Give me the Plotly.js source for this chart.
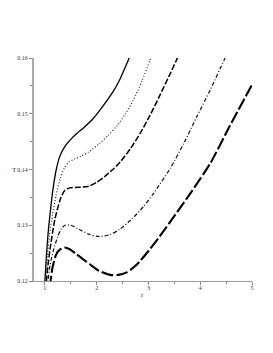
<!DOCTYPE html>
<html>
<head>
<meta charset="utf-8">
<script src="https://cdn.plot.ly/plotly-3.0.1.min.js"></script>
<style>html,body{margin:0;padding:0;background:#fff;}#chart{width:273px;height:353px;}</style>
</head>
<body>
<div id="chart"></div>
<script>
// Curve 1 (solid)
var r1 = [0.99, 1.00, 1.03, 1.06, 1.10, 1.16, 1.22, 1.29, 1.39, 1.50, 1.61, 1.75, 1.93, 2.10, 2.32, 2.45, 2.61, 2.66];
var T1 = [0.1183, 0.1200, 0.1245, 0.1283, 0.1320, 0.1367, 0.1400, 0.1424, 0.1442, 0.1454, 0.1464, 0.1475, 0.1491, 0.1511, 0.1540, 0.1562, 0.1596, 0.1607];
// Curve 2 (dotted)
var r2 = [1.01, 1.02, 1.05, 1.09, 1.15, 1.22, 1.30, 1.38, 1.46, 1.58, 1.70, 1.85, 2.06, 2.22, 2.39, 2.55, 2.71, 2.87, 3.03, 3.08];
var T2 = [0.1183, 0.1200, 0.1245, 0.1283, 0.1320, 0.1355, 0.1385, 0.1403, 0.1413, 0.1419, 0.1424, 0.1432, 0.1447, 0.1461, 0.1478, 0.1499, 0.1525, 0.1558, 0.1596, 0.1608];
// Curve 3 (dashed)
var r3 = [1.02, 1.03, 1.06, 1.10, 1.19, 1.30, 1.38, 1.48, 1.65, 1.85, 2.00, 2.15, 2.30, 2.45, 2.65, 2.84, 3.03, 3.22, 3.40, 3.54, 3.59];
var T3 = [0.1185, 0.1200, 0.1228, 0.1257, 0.1309, 0.1347, 0.1362, 0.1367, 0.1368, 0.1370, 0.1377, 0.1387, 0.1399, 0.1413, 0.1437, 0.1465, 0.1497, 0.1533, 0.1568, 0.1596, 0.1607];
// Curve 4 (dash-dot)
var r4 = [1.05, 1.06, 1.10, 1.16, 1.25, 1.32, 1.39, 1.50, 1.65, 1.85, 2.03, 2.25, 2.45, 2.70, 2.90, 3.09, 3.42, 3.70, 3.93, 4.20, 4.46, 4.51];
var T4 = [0.1188, 0.1200, 0.1228, 0.1253, 0.1280, 0.1294, 0.1300, 0.1300, 0.1293, 0.1284, 0.1280, 0.1283, 0.1293, 0.1313, 0.1333, 0.1356, 0.1402, 0.1450, 0.1494, 0.1544, 0.1596, 0.1606];
// Curve 5 (long dash)
var r5 = [1.10, 1.11, 1.15, 1.22, 1.30, 1.38, 1.48, 1.61, 1.87, 2.05, 2.26, 2.42, 2.57, 2.72, 2.84, 3.02, 3.21, 3.45, 3.83, 4.20, 4.57, 5.00];
var T5 = [0.1188, 0.1200, 0.1225, 0.1248, 0.1257, 0.1260, 0.1257, 0.1248, 0.1230, 0.1218, 0.1211, 0.1211, 0.1215, 0.1225, 0.1236, 0.1256, 0.1279, 0.1310, 0.1360, 0.1412, 0.1478, 0.1552];

var xTicks = [1, 2, 3, 4, 5];
var yTicks = [0.12, 0.13, 0.14, 0.15, 0.16];
var yTickText = ['0.12', '0.13', '0.14', '0.15', '0.16'];

function tr(x, y, dash, w, col) {
  return {x: x, y: y, mode: 'lines', type: 'scatter', hoverinfo: 'skip',
    line: {color: col, width: w, dash: dash, shape: 'spline', smoothing: 0.7}};
}
var data = [
  tr(r1, T1, 'solid', 1.3, '#000'),
  tr(r2, T2, '1px,2px', 1.2, '#222'),
  tr(r3, T3, '6px,2px', 1.5, '#000'),
  tr(r4, T4, '4px,2px,1px,2px', 1.2, '#111'),
  tr(r5, T5, '12px,3px', 2.1, '#000')
];
var font = {family: '"Liberation Serif", "DejaVu Serif", serif', size: 6, color: '#333'};
var layout = {
  width: 273, height: 353,
  margin: {l: 34, r: 21, t: 58, b: 72, pad: 0},
  paper_bgcolor: '#fff', plot_bgcolor: '#fff',
  showlegend: false,
  font: font,
  xaxis: {range: [0.79, 5], tickvals: xTicks, ticktext: xTicks.map(String), ticks: 'outside', ticklen: 3,
    tickcolor: '#888', showline: true, linecolor: '#999', linewidth: 1.2, showgrid: false, zeroline: false,
    ticklabelstandoff: -2,
    tickfont: font, minor: {dtick: 0.5, tick0: 1, ticks: 'outside', ticklen: 2, tickcolor: '#888', showgrid: false}},
  yaxis: {range: [0.12, 0.16], tickvals: yTicks, ticktext: yTickText, ticks: 'outside', ticklen: 3,
    tickcolor: '#888', showline: true, linecolor: '#aaa', linewidth: 2, showgrid: false, zeroline: false,
    tickfont: font, minor: {dtick: 0.005, tick0: 0.12, ticks: 'outside', ticklen: 2, tickcolor: '#888', showgrid: false}},
  annotations: [
    {text: 'T', xref: 'paper', yref: 'y', x: -0.09, y: 0.14, xanchor: 'center', yanchor: 'middle', showarrow: false,
      font: {family: font.family, size: 7, color: '#333'}},
    {text: 'r', xref: 'x', yref: 'paper', x: 2.88, y: -0.062, xanchor: 'center', yanchor: 'middle', showarrow: false,
      font: {family: font.family, size: 7, color: '#333'}}
  ]
};
Plotly.newPlot('chart', data, layout, {displayModeBar: false, staticPlot: true});
</script>
</body>
</html>
